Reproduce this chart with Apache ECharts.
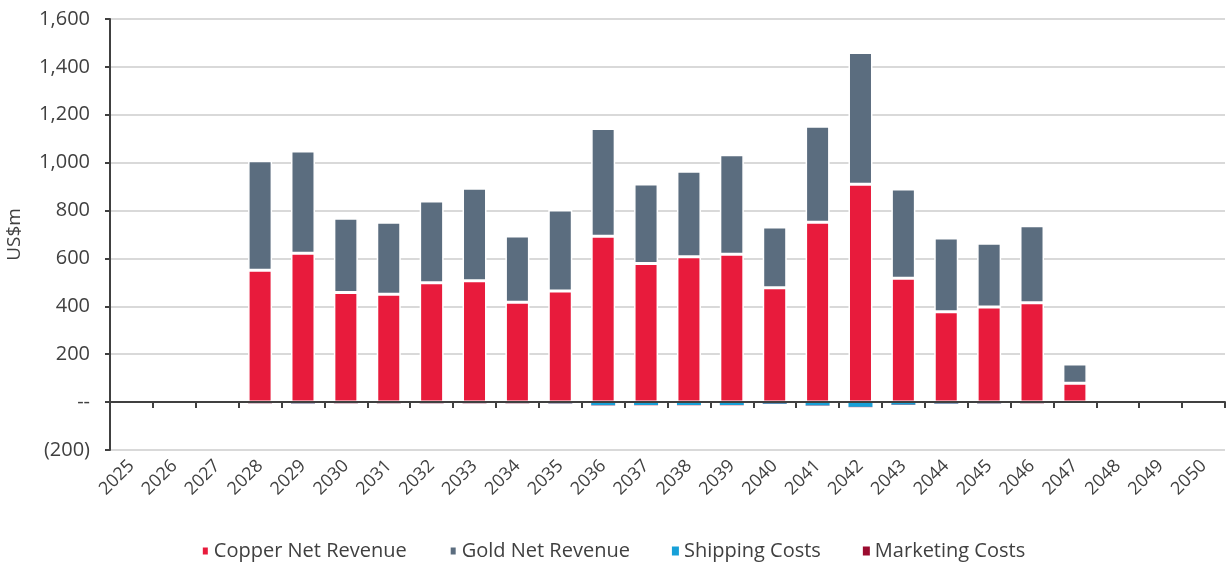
<!DOCTYPE html>
<html>
<head>
<meta charset="utf-8">
<script src="https://cdn.jsdelivr.net/npm/echarts@6/dist/echarts.min.js"></script>
<style>
  html, body { margin: 0; padding: 0; background: #fff; }
  #chart { width: 1226px; height: 563px; }
</style>
</head>
<body>
<div id="chart"></div>
<script>
const years = ['2025','2026','2027','2028','2029','2030','2031','2032','2033','2034','2035','2036','2037',
  '2038','2039','2040','2041','2042','2043','2044','2045','2046','2047','2048','2049','2050'];

const copperNetRevenue = [null, null, null, 551, 622, 458, 450, 498, 507, 417, 464, 693, 579,
  607, 617, 478, 751, 910, 517, 377, 397, 415, 79, null, null, null];
const goldNetRevenue = [null, null, null, 457, 427, 310, 301, 342, 386, 277, 338, 450, 332,
  357, 416, 253, 401, 550, 373, 308, 266, 322, 80, null, null, null];
const shippingCosts = [null, null, null, -4, -5, -4, -4, -4, -4, -4, -5, -13, -12,
  -12, -12, -7, -14, -20, -11, -6, -5, -4, -2, null, null, null];
const marketingCosts = [null, null, null, -1, -1, -1, -1, -1, -1, -1, -1, -1, -1,
  -1, -1, -1, -1, -1, -1, -1, -1, -1, -1, null, null, null];

const yTicks = { min: -200, max: 1600, step: 200 };

const FONT = '"Open Sans", sans-serif';
const TXT = '#404040';

const chart = echarts.init(document.getElementById('chart'));

function fmt(v) {
  if (v === 0) return '--';
  if (v < 0) return '(' + Math.abs(v).toLocaleString('en-US') + ')';
  return v.toLocaleString('en-US');
}

const barBase = { type: 'bar', stack: 'total', barWidth: 24, xAxisIndex: 0 };

chart.setOption({
  animation: false,
  textStyle: { fontFamily: FONT },
  grid: { left: 110, right: 1, top: 19, bottom: 113, containLabel: false, outerBoundsMode: 'none' },
  legend: {
    top: 536,
    left: 'center',
    itemWidth: 7,
    itemHeight: 9,
    itemGap: 42,
    icon: 'rect',
    textStyle: { fontFamily: FONT, fontSize: 20, color: TXT },
    data: ['Copper Net Revenue', 'Gold Net Revenue', 'Shipping Costs', 'Marketing Costs']
  },
  xAxis: [
    {
      type: 'category',
      data: years,
      z: 5,
      axisLine: { onZero: true, lineStyle: { color: TXT, width: 2 } },
      axisTick: { show: true, length: 6, lineStyle: { color: TXT, width: 2 } },
      axisLabel: { show: false }
    },
    {
      type: 'category',
      data: years,
      position: 'bottom',
      axisLine: { show: false, onZero: false },
      axisTick: { show: false },
      axisLabel: { rotate: 45, margin: 13, fontSize: 18, color: TXT, fontFamily: FONT }
    }
  ],
  yAxis: {
    type: 'value',
    min: yTicks.min,
    max: yTicks.max,
    interval: yTicks.step,
    name: 'US$m',
    nameLocation: 'middle',
    nameGap: 86,
    nameTextStyle: { fontSize: 19, color: TXT, fontFamily: FONT },
    axisLine: { show: true, lineStyle: { color: TXT, width: 2 } },
    axisTick: { show: true, length: 5, lineStyle: { color: TXT, width: 2 } },
    axisLabel: { margin: 20, fontSize: 20, color: TXT, fontFamily: FONT, formatter: fmt },
    splitLine: { lineStyle: { color: '#D9D9D9', width: 2 } }
  },
  series: [
    Object.assign({}, barBase, {
      name: 'Copper Net Revenue',
      data: copperNetRevenue,
      itemStyle: { color: '#E81B3C', borderColor: '#fff', borderWidth: 1.5 }
    }),
    Object.assign({}, barBase, {
      name: 'Gold Net Revenue',
      data: goldNetRevenue,
      itemStyle: { color: '#5B6D7F', borderColor: '#fff', borderWidth: 1.5 }
    }),
    Object.assign({}, barBase, {
      name: 'Shipping Costs',
      barWidth: 22,
      data: shippingCosts,
      itemStyle: { color: '#17A0D8' }
    }),
    Object.assign({}, barBase, {
      name: 'Marketing Costs',
      barWidth: 22,
      data: marketingCosts,
      itemStyle: { color: '#9B0B2F' }
    })
  ]
});
</script>
</body>
</html>
